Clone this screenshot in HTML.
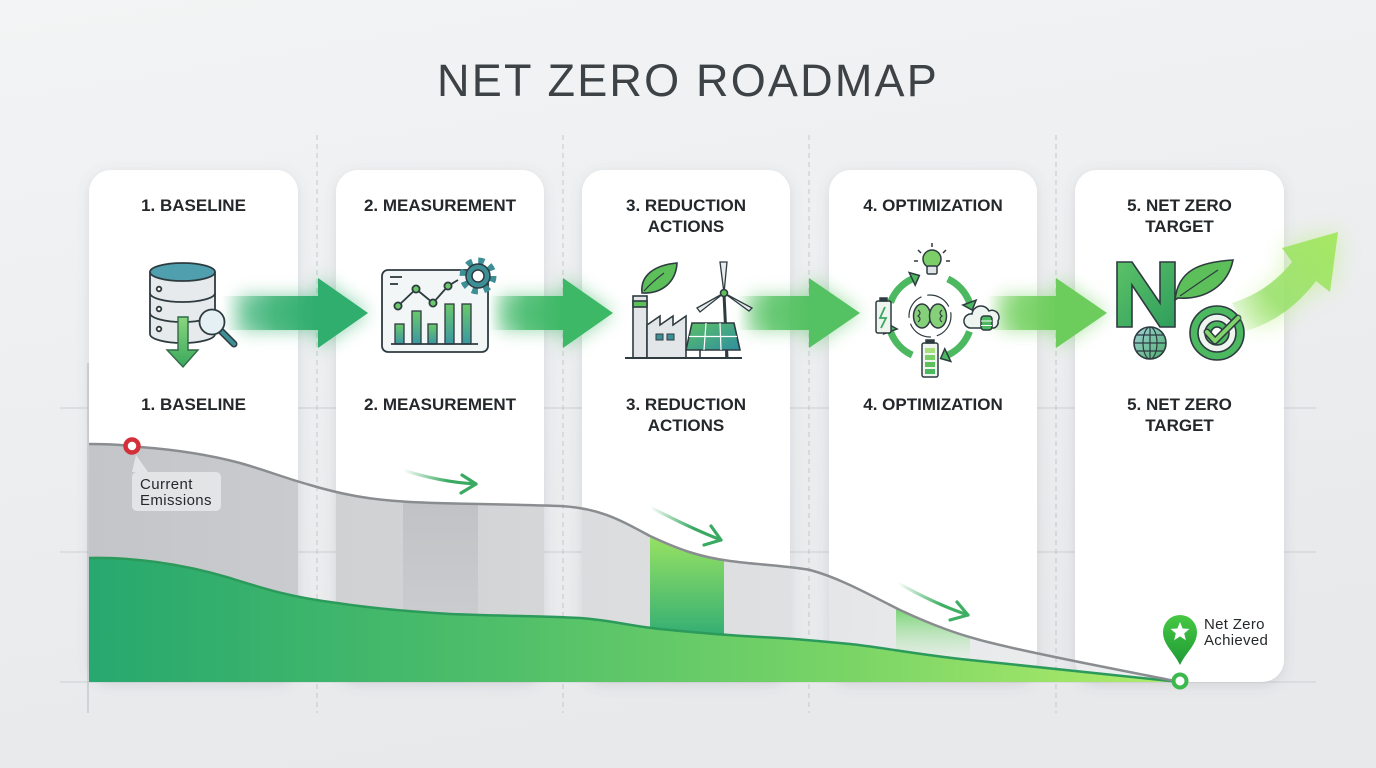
<!DOCTYPE html>
<html><head><meta charset="utf-8"><style>
html,body{margin:0;padding:0;width:1376px;height:768px;overflow:hidden;background:#eceef0;}
svg{display:block;}
text{font-family:"Liberation Sans",sans-serif;}
</style></head><body>
<svg width="1376" height="768" viewBox="0 0 1376 768" xmlns="http://www.w3.org/2000/svg">
<defs>
  <linearGradient id="bg" x1="0" y1="0" x2="0.3" y2="1">
    <stop offset="0" stop-color="#f3f4f5"/><stop offset="1" stop-color="#e7e9eb"/>
  </linearGradient>
  <filter id="sh" x="-20%" y="-10%" width="140%" height="120%">
    <feDropShadow dx="0" dy="3" stdDeviation="6" flood-color="#6a7078" flood-opacity="0.18"/>
  </filter>
  <filter id="glow" x="-30%" y="-60%" width="160%" height="220%"><feGaussianBlur stdDeviation="9"/></filter>
  <filter id="glow2" x="-50%" y="-50%" width="200%" height="200%"><feGaussianBlur stdDeviation="12"/></filter>
  <clipPath id="cards">
    <rect x="89" y="170" width="209" height="512" rx="22"/>
    <rect x="336" y="170" width="208" height="512" rx="22"/>
    <rect x="582" y="170" width="208" height="512" rx="22"/>
    <rect x="829" y="170" width="208" height="512" rx="22"/>
    <rect x="1075" y="170" width="209" height="512" rx="22"/>
  </clipPath>
  <clipPath id="grayArea">
    <path d="M89,444 C110,444 125,445 140,447 C180,450 210,455 240,463 C265,470 285,478 310,485 C340,494 370,500 410,502 C450,504 500,504 560,506 C600,508 620,520 650,536 C680,550 700,557 730,561 C760,565 790,566 810,570 C840,578 870,595 900,610 C930,624 960,636 1000,645 C1050,657 1100,666 1180,682 L89,682 Z"/>
  </clipPath>
  <linearGradient id="grayFill" gradientUnits="userSpaceOnUse" x1="89" y1="0" x2="1180" y2="0">
    <stop offset="0" stop-color="#c3c5c8"/>
    <stop offset="0.19" stop-color="#c9cbce"/>
    <stop offset="0.226" stop-color="#cfd1d3"/>
    <stop offset="0.417" stop-color="#d4d6d8"/>
    <stop offset="0.452" stop-color="#dbdcde"/>
    <stop offset="0.643" stop-color="#dfe0e2"/>
    <stop offset="0.678" stop-color="#e5e6e8"/>
    <stop offset="0.869" stop-color="#ebeced"/>
    <stop offset="1" stop-color="#eff0f1"/>
  </linearGradient>
  <linearGradient id="greenFill" gradientUnits="userSpaceOnUse" x1="89" y1="0" x2="1180" y2="0">
    <stop offset="0" stop-color="#27a86e"/>
    <stop offset="0.35" stop-color="#4cbd6a"/>
    <stop offset="0.7" stop-color="#7ad566"/>
    <stop offset="1" stop-color="#b2ec6a"/>
  </linearGradient>
  <linearGradient id="col2" x1="0" y1="0" x2="0" y2="1">
    <stop offset="0" stop-color="#bfc1c4"/><stop offset="1" stop-color="#cbcdd0"/>
  </linearGradient>
  <linearGradient id="col3" gradientUnits="userSpaceOnUse" x1="0" y1="535" x2="0" y2="636">
    <stop offset="0" stop-color="#98e362"/><stop offset="1" stop-color="#34ae74"/>
  </linearGradient>
  <linearGradient id="col4" gradientUnits="userSpaceOnUse" x1="0" y1="606" x2="0" y2="662">
    <stop offset="0" stop-color="#6fd36a"/><stop offset="1" stop-color="#e6f2e6" stop-opacity="0.4"/>
  </linearGradient>
  <linearGradient id="a1" gradientUnits="userSpaceOnUse" x1="222" y1="0" x2="318" y2="0">
    <stop offset="0" stop-color="#2fae6d" stop-opacity="0"/><stop offset="0.55" stop-color="#2fae6d" stop-opacity="0.75"/><stop offset="1" stop-color="#2fae6d"/>
  </linearGradient>
  <linearGradient id="a2" gradientUnits="userSpaceOnUse" x1="490" y1="0" x2="563" y2="0">
    <stop offset="0" stop-color="#3db866" stop-opacity="0"/><stop offset="0.5" stop-color="#3db866" stop-opacity="0.75"/><stop offset="1" stop-color="#3db866"/>
  </linearGradient>
  <linearGradient id="a3" gradientUnits="userSpaceOnUse" x1="738" y1="0" x2="809" y2="0">
    <stop offset="0" stop-color="#54c262" stop-opacity="0"/><stop offset="0.5" stop-color="#54c262" stop-opacity="0.75"/><stop offset="1" stop-color="#54c262"/>
  </linearGradient>
  <linearGradient id="a4" gradientUnits="userSpaceOnUse" x1="988" y1="0" x2="1056" y2="0">
    <stop offset="0" stop-color="#72d05e" stop-opacity="0"/><stop offset="0.5" stop-color="#72d05e" stop-opacity="0.75"/><stop offset="1" stop-color="#6ccd5c"/>
  </linearGradient>
  <linearGradient id="a5" gradientUnits="userSpaceOnUse" x1="1232" y1="325" x2="1338" y2="235">
    <stop offset="0" stop-color="#a4e47a" stop-opacity="0.1"/><stop offset="0.35" stop-color="#98e06c" stop-opacity="0.85"/><stop offset="1" stop-color="#a6e862"/>
  </linearGradient>
  <linearGradient id="sa2" gradientUnits="userSpaceOnUse" x1="403" y1="0" x2="478" y2="0">
    <stop offset="0" stop-color="#3aaa62" stop-opacity="0"/><stop offset="0.6" stop-color="#3aaa62"/><stop offset="1" stop-color="#3aaa62"/>
  </linearGradient>
  <linearGradient id="sa3" gradientUnits="userSpaceOnUse" x1="650" y1="0" x2="722" y2="0">
    <stop offset="0" stop-color="#3aaa62" stop-opacity="0"/><stop offset="0.6" stop-color="#3aaa62"/><stop offset="1" stop-color="#3aaa62"/>
  </linearGradient>
  <linearGradient id="sa4" gradientUnits="userSpaceOnUse" x1="898" y1="0" x2="970" y2="0">
    <stop offset="0" stop-color="#3fb063" stop-opacity="0"/><stop offset="0.6" stop-color="#3fb063"/><stop offset="1" stop-color="#3fb063"/>
  </linearGradient>
  <linearGradient id="gArrow" x1="0" y1="0" x2="0" y2="1">
    <stop offset="0" stop-color="#8ad67e"/><stop offset="1" stop-color="#3aa85c"/>
  </linearGradient>
  <linearGradient id="bars" x1="0" y1="0" x2="0" y2="1">
    <stop offset="0" stop-color="#6cc86a"/><stop offset="1" stop-color="#3a98a2"/>
  </linearGradient>
  <linearGradient id="panel" x1="0" y1="0" x2="1" y2="1">
    <stop offset="0" stop-color="#5cc064"/><stop offset="1" stop-color="#2f8fa0"/>
  </linearGradient>
  <linearGradient id="nGrad" x1="0" y1="0" x2="1" y2="1">
    <stop offset="0" stop-color="#5cc268"/><stop offset="1" stop-color="#2f9e5c"/>
  </linearGradient>
  <linearGradient id="pin" x1="0" y1="0" x2="0" y2="1">
    <stop offset="0" stop-color="#46c843"/><stop offset="1" stop-color="#1f9a36"/>
  </linearGradient>
  <linearGradient id="globe" x1="0" y1="0" x2="1" y2="1">
    <stop offset="0" stop-color="#9fd2da"/><stop offset="1" stop-color="#4fae6a"/>
  </linearGradient>
</defs>

<rect width="1376" height="768" fill="url(#bg)"/>

<!-- Title -->
<text x="688" y="96" text-anchor="middle" font-size="45" letter-spacing="2.2" fill="#3d4246">NET ZERO ROADMAP</text>

<!-- grid lines -->
<g stroke="#d2d5d8" stroke-width="1.2">
  <line x1="60" y1="408" x2="1316" y2="408"/>
  <line x1="60" y1="552" x2="1316" y2="552"/>
  <line x1="60" y1="682" x2="1316" y2="682"/>
</g>
<g stroke="#c4c7ca" stroke-width="1" stroke-dasharray="5 4">
  <line x1="317" y1="135" x2="317" y2="713"/>
  <line x1="563" y1="135" x2="563" y2="713"/>
  <line x1="809" y1="135" x2="809" y2="713"/>
  <line x1="1056" y1="135" x2="1056" y2="713"/>
</g>
<line x1="88" y1="363" x2="88" y2="713" stroke="#c0c3c6" stroke-width="1.2"/>

<!-- cards -->
<g fill="#ffffff" filter="url(#sh)">
  <rect x="89" y="170" width="209" height="512" rx="22"/>
  <rect x="336" y="170" width="208" height="512" rx="22"/>
  <rect x="582" y="170" width="208" height="512" rx="22"/>
  <rect x="829" y="170" width="208" height="512" rx="22"/>
  <rect x="1075" y="170" width="209" height="512" rx="22"/>
</g>

<!-- gray emissions area (only inside cards) -->
<g clip-path="url(#cards)">
  <rect x="89" y="430" width="1100" height="260" fill="url(#grayFill)" clip-path="url(#grayArea)"/>
</g>
<g clip-path="url(#grayArea)">
  <rect x="403" y="490" width="75" height="140" fill="url(#col2)"/>
  <rect x="650" y="520" width="74" height="130" fill="url(#col3)"/>
  <rect x="896" y="595" width="74" height="80" fill="url(#col4)"/>
</g>

<!-- green area -->
<path d="M89,558 C130,557 180,563 230,578 C265,589 290,597 337,603 C370,608 400,611 450,614 C500,616 540,616 580,618 C610,620 630,626 660,629 C690,632 720,635 760,637 C790,638 820,641 850,644 C880,647 920,655 970,660 C1040,667 1110,674 1180,682 L89,682 Z" fill="url(#greenFill)"/>
<path d="M89,558 C130,557 180,563 230,578 C265,589 290,597 337,603 C370,608 400,611 450,614 C500,616 540,616 580,618 C610,620 630,626 660,629 C690,632 720,635 760,637 C790,638 820,641 850,644 C880,647 920,655 970,660 C1040,667 1110,674 1180,682" fill="none" stroke="#2b9a5a" stroke-width="2.5"/>
<!-- gray line -->
<path d="M89,444 C110,444 125,445 140,447 C180,450 210,455 240,463 C265,470 285,478 310,485 C340,494 370,500 410,502 C450,504 500,504 560,506 C600,508 620,520 650,536 C680,550 700,557 730,561 C760,565 790,566 810,570 C840,578 870,595 900,610 C930,624 960,636 1000,645 C1050,657 1100,666 1180,682" fill="none" stroke="#8a8d90" stroke-width="2.5"/>

<!-- small chart arrows -->
<g fill="none" stroke-width="3.2" stroke-linecap="round" stroke-linejoin="round">
  <path d="M403,470 Q440,482 476,484" stroke="url(#sa2)"/>
  <path d="M462,475 L476,484 L461,493" stroke="#3aaa62"/>
  <path d="M650,507 Q690,528 721,540" stroke="url(#sa3)"/>
  <path d="M711,526 L721,540 L704,545" stroke="#3aaa62"/>
  <path d="M898,583 Q935,604 968,615" stroke="url(#sa4)"/>
  <path d="M957,602 L968,615 L950,620" stroke="#3fb063"/>
</g>

<!-- Current emissions marker -->
<path d="M132,472 L136,455 L148,472 Z" fill="#e3e4e6"/>
<rect x="132" y="472" width="89" height="39" rx="5" fill="#e3e4e6"/>
<text x="140" y="489" font-size="15" letter-spacing="0.4" fill="#25292c">Current</text>
<text x="140" y="505" font-size="15" letter-spacing="0.4" fill="#25292c">Emissions</text>
<circle cx="132" cy="446" r="6.5" fill="#ffffff" stroke="#d4303a" stroke-width="4.5"/>

<!-- Net zero achieved -->
<path d="M1180,665 C1174,652 1163,645 1163,632 A17,17 0 0 1 1197,632 C1197,645 1186,652 1180,665 Z" fill="url(#pin)"/>
<polygon points="1180,622 1182.6,628.5 1189.5,628.9 1184.2,633.4 1185.9,640.2 1180,636.4 1174.1,640.2 1175.8,633.4 1170.5,628.9 1177.4,628.5" fill="#ffffff"/>
<circle cx="1180" cy="681" r="6.5" fill="#ffffff" stroke="#3cb84c" stroke-width="4"/>
<text x="1204" y="629" font-size="15" letter-spacing="0.3" fill="#25292c">Net Zero</text>
<text x="1204" y="645" font-size="15" letter-spacing="0.3" fill="#25292c">Achieved</text>

<!-- Labels -->
<g font-size="17" font-weight="bold" fill="#24282b" text-anchor="middle">
  <text x="193.5" y="211">1. BASELINE</text>
  <text x="440" y="211">2. MEASUREMENT</text>
  <text x="686" y="211">3. REDUCTION</text>
  <text x="686" y="232">ACTIONS</text>
  <text x="933" y="211">4. OPTIMIZATION</text>
  <text x="1179.5" y="211">5. NET ZERO</text>
  <text x="1179.5" y="232">TARGET</text>

  <text x="193.5" y="410">1. BASELINE</text>
  <text x="440" y="410">2. MEASUREMENT</text>
  <text x="686" y="410">3. REDUCTION</text>
  <text x="686" y="431">ACTIONS</text>
  <text x="933" y="410">4. OPTIMIZATION</text>
  <text x="1179.5" y="410">5. NET ZERO</text>
  <text x="1179.5" y="431">TARGET</text>
</g>

<!-- Big arrows glow -->
<g filter="url(#glow)" opacity="0.55">
  <path d="M240,296 L318,296 L318,278 L368,313 L318,348 L318,330 L240,330 Z" fill="#2fae6d"/>
  <path d="M500,296 L563,296 L563,278 L613,313 L563,348 L563,330 L500,330 Z" fill="#3db866"/>
  <path d="M750,296 L809,296 L809,278 L860,313 L809,348 L809,330 L750,330 Z" fill="#54c262"/>
  <path d="M1000,296 L1056,296 L1056,278 L1107,313 L1056,348 L1056,330 L1000,330 Z" fill="#72d05e"/>
</g>
<g filter="url(#glow2)" opacity="0.6">
  <path d="M1250,305 Q1275,290 1292,262 L1282,248 L1338,232 L1330,292 L1316,281 Q1290,315 1255,328 Z" fill="#b6ee78"/>
</g>
<!-- Big arrows -->
<path d="M222,296 L318,296 L318,278 L368,313 L318,348 L318,330 L222,330 Z" fill="url(#a1)"/>
<path d="M490,296 L563,296 L563,278 L613,313 L563,348 L563,330 L490,330 Z" fill="url(#a2)"/>
<path d="M738,296 L809,296 L809,278 L860,313 L809,348 L809,330 L738,330 Z" fill="url(#a3)"/>
<path d="M988,296 L1056,296 L1056,278 L1107,313 L1056,348 L1056,330 L988,330 Z" fill="url(#a4)"/>

<!-- Icon 1: database -->
<g stroke="#2e3b40" stroke-width="1.8">
  <path d="M150,272 L150,334 A32.5,9 0 0 0 215,334 L215,272" fill="#e6eaec"/>
  <ellipse cx="182.5" cy="272" rx="32.5" ry="9" fill="#4f9fae"/>
  <path d="M150,293 A32.5,9 0 0 0 215,293 M150,313 A32.5,9 0 0 0 215,313" fill="none"/>
  <circle cx="159" cy="289" r="2.3" fill="#fff"/>
  <circle cx="159" cy="309" r="2.3" fill="#fff"/>
  <circle cx="159" cy="329" r="2.3" fill="#fff"/>
  <line x1="221" y1="331" x2="234" y2="344" stroke="#2e3b40" stroke-width="7" stroke-linecap="round"/>
  <line x1="221" y1="331" x2="234" y2="344" stroke="#3d8f96" stroke-width="4" stroke-linecap="round"/>
  <circle cx="212" cy="322" r="12.5" fill="#e4f0f3"/>
  <path d="M178,317 L188,317 L188,350 L198,350 L183,367 L167,350 L178,350 Z" fill="url(#gArrow)" stroke="#2f6a48" stroke-width="1.4"/>
</g>

<!-- Icon 2: dashboard -->
<g stroke="#2e3b40" stroke-width="1.8">
  <rect x="382" y="270" width="106" height="82" rx="6" fill="#f3f6f6"/>
  <line x1="390" y1="277" x2="402" y2="277"/>
  <line x1="390" y1="284" x2="398" y2="284"/>
  <rect x="395" y="324" width="9" height="20" fill="url(#bars)" stroke-width="1.3"/>
  <rect x="412" y="311" width="9" height="33" fill="url(#bars)" stroke-width="1.3"/>
  <rect x="428" y="324" width="9" height="20" fill="url(#bars)" stroke-width="1.3"/>
  <rect x="445" y="304" width="9" height="40" fill="url(#bars)" stroke-width="1.3"/>
  <rect x="462" y="304" width="9" height="40" fill="url(#bars)" stroke-width="1.3"/>
  <line x1="391" y1="344" x2="478" y2="344"/>
  <polyline points="398,306 416,289 433,303 448,286 458,280" fill="none"/>
  <circle cx="398" cy="306" r="3.6" fill="#6cc86a"/>
  <circle cx="416" cy="289" r="3.6" fill="#6cc86a"/>
  <circle cx="433" cy="303" r="3.6" fill="#6cc86a"/>
  <circle cx="448" cy="286" r="3.6" fill="#6cc86a"/>
  <circle cx="478" cy="276" r="15" fill="none" stroke="#3d8f96" stroke-width="7" stroke-dasharray="5.9 5.9"/>
  <circle cx="478" cy="276" r="12" fill="#3d8f96" stroke-width="1.5"/>
  <circle cx="478" cy="276" r="6" fill="#ffffff" stroke-width="1.5"/>
</g>

<!-- Icon 3: factory / wind / solar -->
<g stroke="#2e3b40" stroke-width="1.6">
  <path d="M642,293 C640,275 655,265 677,263 C676,282 662,294 642,293 Z" fill="#5cbf5a"/>
  <path d="M644,291 Q652,282 664,273" fill="none" stroke-width="1.2"/>
  <rect x="633" y="296" width="14" height="62" fill="#e3e6e8"/>
  <rect x="633" y="301" width="14" height="6" fill="#5cbf5a"/>
  <path d="M647,358 L647,325 L660,316 L660,325 L673,316 L673,325 L686,316 L686,358 Z" fill="#e3e6e8"/>
  <rect x="656" y="334" width="7" height="6" fill="#3d8f96" stroke-width="1"/>
  <rect x="667" y="334" width="7" height="6" fill="#3d8f96" stroke-width="1"/>
  <line x1="724" y1="294" x2="727" y2="358" stroke-width="3"/>
  <path d="M724,293 L720,262 L727,262 Z" fill="#e8ecee" stroke-width="1.3"/>
  <path d="M724,293 L697,308 L700,312 Z" fill="#e8ecee" stroke-width="1.3"/>
  <path d="M724,293 L752,308 L749,311 Z" fill="#e8ecee" stroke-width="1.3"/>
  <circle cx="724" cy="293" r="3.5" fill="#5cbf5a"/>
  <path d="M692,323 L734,323 L740,350 L686,350 Z" fill="url(#panel)"/>
  <path d="M689,336.5 L737,336.5 M706,323 L704,350 M720,323 L721,350" stroke="#ffffff" stroke-width="1.2"/>
  <line x1="700" y1="350" x2="700" y2="358"/>
  <line x1="726" y1="350" x2="726" y2="358"/>
  <line x1="625" y1="358" x2="742" y2="358" stroke-width="2"/>
</g>

<!-- Icon 4: optimization cycle -->
<g stroke="#2e3b40" stroke-width="1.5">
  <g fill="none" stroke="#4cb860" stroke-width="7" stroke-linecap="butt">
    <path d="M890.5,302.6 A42,42 0 0 1 912.2,278.9"/>
    <path d="M947.8,278.9 A42,42 0 0 1 969.5,302.6"/>
    <path d="M969.5,331.4 A42,42 0 0 1 947.8,355.1"/>
    <path d="M912.2,355.1 A42,42 0 0 1 890.5,331.4"/>
  </g>
  <polygon points="919.4,275.5 915.2,285.2 909.2,272.6" fill="#4cb860"/>
  <polygon points="972.2,310.1 962.9,305.0 976.1,300.2" fill="#4cb860"/>
  <polygon points="940.6,358.5 944.8,348.8 950.8,361.4" fill="#4cb860"/>
  <polygon points="887.8,323.9 897.1,329.0 883.9,333.8" fill="#4cb860"/>
  <circle cx="932" cy="259" r="9" fill="#7ccf68"/>
  <rect x="927" y="266" width="10" height="8" rx="1.5" fill="#e0e4e6"/>
  <path d="M932,243 L932,247 M918,250 L921,253 M946,250 L943,253 M914,261 L918,261 M946,261 L950,261" fill="none"/>
  <rect x="876" y="301" width="15" height="32" rx="2" fill="#eef5ee"/>
  <rect x="880" y="298" width="7" height="3" fill="#2e3b40"/>
  <polyline points="885,307 880,318 886,318 881,328" fill="none" stroke="#3aa860" stroke-width="1.8"/>
  <path d="M970,328 A7,7 0 0 1 972,314 A9,9 0 0 1 989,311 A7,7 0 0 1 998,321 A6,6 0 0 1 994,328 Z" fill="#eef4f0"/>
  <rect x="981" y="316" width="11" height="14" rx="3" fill="#4cb860"/>
  <path d="M981,321 L992,321 M981,325.5 L992,325.5" stroke="#ffffff" stroke-width="1"/>
  <rect x="922" y="343" width="16" height="34" rx="2" fill="#eef5ee"/>
  <rect x="926" y="340" width="8" height="3" fill="#2e3b40"/>
  <rect x="925" y="348" width="10" height="5" fill="#a6e07a" stroke="none"/>
  <rect x="925" y="355" width="10" height="5" fill="#7ccf68" stroke="none"/>
  <rect x="925" y="362" width="10" height="5" fill="#5cbf5a" stroke="none"/>
  <rect x="925" y="369" width="10" height="5" fill="#4cb860" stroke="none"/>
  <circle cx="930" cy="316" r="21" fill="none" stroke-width="1.2" stroke-dasharray="26 6"/>
  <ellipse cx="922" cy="316" rx="8.5" ry="12" fill="#86d07a"/>
  <ellipse cx="938" cy="316" rx="8.5" ry="12" fill="#86d07a"/>
  <path d="M918,310 q4,3 0,6 q4,3 0,6 M942,310 q-4,3 0,6 q-4,3 0,6" fill="none" stroke-width="1.1"/>
</g>

<!-- Icon 5: N + leaf + globe + target -->
<g stroke="#2e3b40" stroke-width="1.6">
  <path d="M1117,327 L1117,262 L1132,262 L1160,303 L1160,262 L1175,262 L1175,327 L1160,327 L1132,285 L1132,327 Z" fill="url(#nGrad)"/>
  <path d="M1175,300 C1178,270 1200,262 1233,260 C1228,285 1206,300 1178,298 Z" fill="#5cbf5a"/>
  <path d="M1180,296 Q1200,282 1218,270" fill="none" stroke-width="1.2"/>
  <circle cx="1217" cy="333" r="27" fill="#4cb860"/>
  <circle cx="1217" cy="333" r="19" fill="#eef5ee"/>
  <circle cx="1217" cy="333" r="12" fill="#4cb860"/>
  <circle cx="1217" cy="333" r="6" fill="#ffffff"/>
  <polyline points="1207,332 1215,341 1238,318" fill="none" stroke="#2e3b40" stroke-width="7" stroke-linecap="round" stroke-linejoin="round"/>
  <polyline points="1207,332 1215,341 1238,318" fill="none" stroke="#7fd36a" stroke-width="4" stroke-linecap="round" stroke-linejoin="round"/>
  <circle cx="1150" cy="343" r="16" fill="url(#globe)"/>
  <ellipse cx="1150" cy="343" rx="7" ry="16" fill="none" stroke-width="1.2"/>
  <path d="M1134,343 L1166,343 M1137,335 L1163,335 M1137,351 L1163,351 M1150,327 L1150,359" fill="none" stroke-width="1.2"/>
</g>

<!-- final curved arrow -->
<path d="M1232,303 Q1268,292 1292,262 L1282,248 L1338,232 L1330,292 L1316,281 Q1288,318 1246,331 Z" fill="url(#a5)"/>
</svg>
</body></html>
